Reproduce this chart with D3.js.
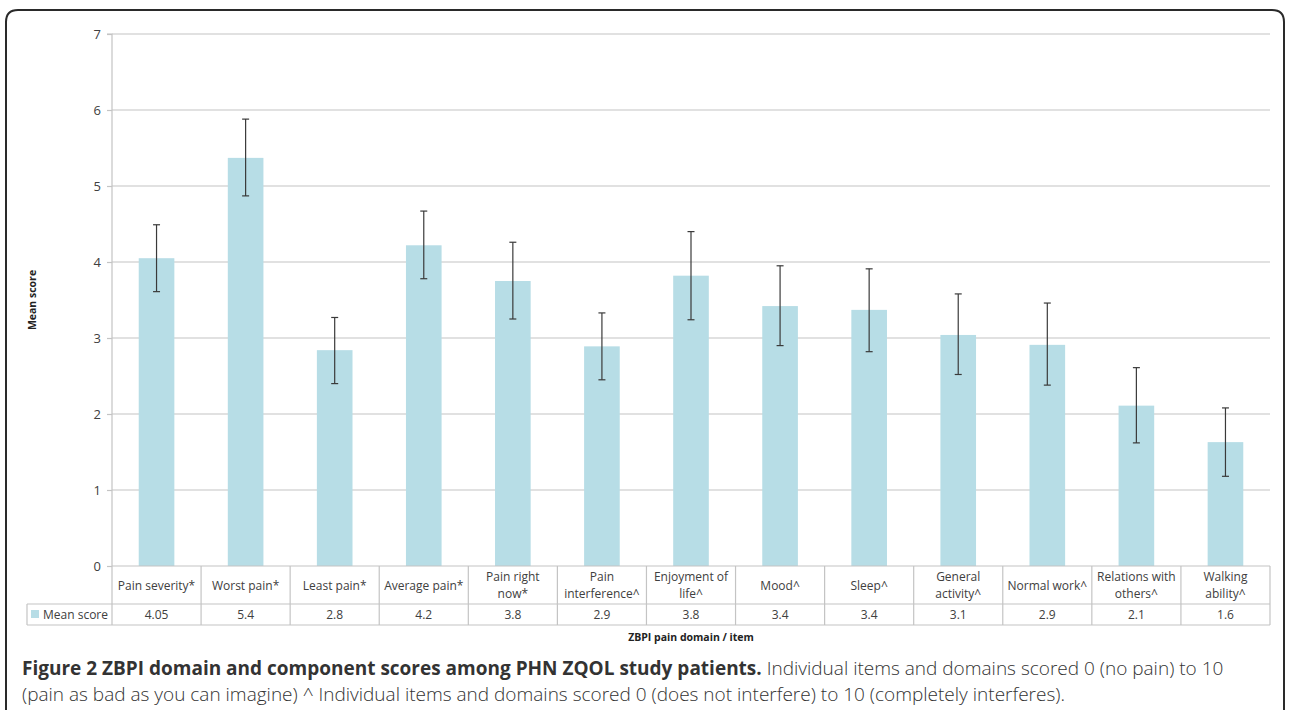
<!DOCTYPE html>
<html>
<head>
<meta charset="utf-8">
<script src="https://cdn.jsdelivr.net/npm/d3@7/dist/d3.min.js"></script>
<style>
  html, body { margin: 0; padding: 0; background: #fff; }
  svg { display: block; }
</style>
</head>
<body>
<svg id="chart" width="1290" height="710"></svg>
<script>
const categories = ["Pain severity*","Worst pain*","Least pain*","Average pain*","Pain right now*","Pain interference^","Enjoyment of life^","Mood^","Sleep^","General activity^","Normal work^","Relations with others^","Walking ability^"];
const headerLines = [["Pain severity*"],["Worst pain*"],["Least pain*"],["Average pain*"],["Pain right","now*"],["Pain","interference^"],["Enjoyment of","life^"],["Mood^"],["Sleep^"],["General","activity^"],["Normal work^"],["Relations with","others^"],["Walking","ability^"]];
const meanScores = [4.05, 5.37, 2.84, 4.22, 3.75, 2.89, 3.82, 3.42, 3.37, 3.04, 2.91, 2.11, 1.63];
const errorHigh = [4.49, 5.88, 3.27, 4.67, 4.26, 3.33, 4.40, 3.95, 3.91, 3.58, 3.46, 2.61, 2.08];
const errorLow = [3.61, 4.87, 2.40, 3.78, 3.25, 2.45, 3.24, 2.90, 2.82, 2.52, 2.38, 1.62, 1.18];
const tableValues = ["4.05","5.4","2.8","4.2","3.8","2.9","3.8","3.4","3.4","3.1","2.9","2.1","1.6"];
const yTicks = [0,1,2,3,4,5,6,7];
const seriesName = "Mean score";
const yTitle = "Mean score";
const xTitle = "ZBPI pain domain / item";
const captionBold = "Figure 2 ZBPI domain and component scores among PHN ZQOL study patients.";
const captionRest1 = " Individual items and domains scored 0 (no pain) to 10";
const captionLine2 = "(pain as bad as you can imagine) ^ Individual items and domains scored 0 (does not interfere) to 10 (completely interferes).";

const svg = d3.select("#chart");
const chartFont = "'Open Sans', 'Noto Sans', sans-serif";
const textColor = "#404040";
const gridColor = "#c4c4c4";
const barColor = "#b7dde6";

// frame
svg.append("path")
  .attr("d", "M6,712 L6,22 Q6,10 18,10 L1272,10 Q1284,10 1284,22 L1284,712")
  .attr("fill", "none").attr("stroke", "#2a2a2a").attr("stroke-width", 2);

const plotLeft = 112, plotRight = 1270, plotTop = 34, plotBottom = 566;
const x = d3.scaleBand().domain(categories).range([plotLeft, plotRight]).paddingInner(0.6).paddingOuter(0.3);
const y = d3.scaleLinear().domain([0, 7]).range([plotBottom, plotTop]);

// gridlines
svg.append("g").selectAll("line").data(yTicks.filter(t => t > 0)).join("line")
  .attr("x1", plotLeft).attr("x2", plotRight)
  .attr("y1", d => y(d)).attr("y2", d => y(d))
  .attr("stroke", gridColor).attr("stroke-width", 1.2);

// y axis
const yAxis = d3.axisLeft(y).tickValues(yTicks).tickSize(5).tickPadding(6).tickFormat(d3.format("d"));
const gy = svg.append("g").attr("transform", `translate(${plotLeft},0)`).call(yAxis);
gy.select(".domain").attr("stroke", gridColor).attr("stroke-width", 1.2).attr("d", `M-5,${plotTop}H0V${plotBottom + 59}`);
gy.selectAll(".tick line").attr("stroke", gridColor).attr("stroke-width", 1.2);
gy.selectAll(".tick text").attr("fill", textColor).attr("font-family", chartFont).attr("font-size", 13);

// bars
svg.append("g").selectAll("rect").data(categories).join("rect")
  .attr("x", d => x(d)).attr("width", x.bandwidth())
  .attr("y", (d, i) => y(meanScores[i]))
  .attr("height", (d, i) => y(0) - y(meanScores[i]))
  .attr("fill", barColor);

// error bars
const eg = svg.append("g").attr("stroke", "#3a3a3a").attr("stroke-width", 1.2);
categories.forEach((c, i) => {
  const cx = x(c) + x.bandwidth() / 2;
  eg.append("line").attr("x1", cx).attr("x2", cx).attr("y1", y(errorHigh[i])).attr("y2", y(errorLow[i]));
  eg.append("line").attr("x1", cx - 3.5).attr("x2", cx + 3.5).attr("y1", y(errorHigh[i])).attr("y2", y(errorHigh[i]));
  eg.append("line").attr("x1", cx - 3.5).attr("x2", cx + 3.5).attr("y1", y(errorLow[i])).attr("y2", y(errorLow[i]));
});

// data table
const rowTop = plotBottom, rowMid = 604, rowBot = 625, tableLeft = 27;
const tg = svg.append("g");
const step = x.step();
const colLeft = i => plotLeft + i * step;
tg.append("line").attr("x1", plotLeft).attr("x2", plotRight).attr("y1", rowTop).attr("y2", rowTop).attr("stroke", gridColor).attr("stroke-width", 1.2);
tg.append("line").attr("x1", tableLeft).attr("x2", plotRight).attr("y1", rowMid).attr("y2", rowMid).attr("stroke", gridColor).attr("stroke-width", 1.2);
tg.append("line").attr("x1", tableLeft).attr("x2", plotRight).attr("y1", rowBot).attr("y2", rowBot).attr("stroke", gridColor).attr("stroke-width", 1.2);
tg.append("line").attr("x1", tableLeft).attr("x2", tableLeft).attr("y1", rowMid).attr("y2", rowBot).attr("stroke", gridColor).attr("stroke-width", 1.2);
d3.range(1, categories.length + 1).forEach(i => {
  tg.append("line").attr("x1", colLeft(i)).attr("x2", colLeft(i)).attr("y1", rowTop).attr("y2", rowBot).attr("stroke", gridColor).attr("stroke-width", 1.2);
});
categories.forEach((c, i) => {
  const cx = colLeft(i) + step / 2;
  const lines = headerLines[i];
  const t = tg.append("text").attr("x", cx).attr("text-anchor", "middle")
    .attr("font-family", chartFont).attr("font-size", 12).attr("fill", textColor);
  if (lines.length === 1) {
    t.append("tspan").attr("x", cx).attr("y", 589.5).text(lines[0]);
  } else {
    t.append("tspan").attr("x", cx).attr("y", 581).text(lines[0]);
    t.append("tspan").attr("x", cx).attr("y", 597.5).text(lines[1]);
  }
  tg.append("text").attr("x", cx).attr("y", 619).attr("text-anchor", "middle")
    .attr("font-family", chartFont).attr("font-size", 12).attr("fill", textColor).text(tableValues[i]);
});
tg.append("rect").attr("x", 31).attr("y", 610).attr("width", 8).attr("height", 8).attr("fill", barColor);
tg.append("text").attr("x", 43).attr("y", 619).attr("font-family", chartFont).attr("font-size", 12).attr("fill", textColor).text(seriesName);

// axis titles
svg.append("text").attr("transform", "translate(36,300) rotate(-90)").attr("text-anchor", "middle")
  .attr("font-family", chartFont).attr("font-size", 10.5).attr("font-weight", "bold").attr("fill", "#222").text(yTitle);
svg.append("text").attr("x", 691).attr("y", 641).attr("text-anchor", "middle")
  .attr("font-family", chartFont).attr("font-size", 10.5).attr("font-weight", "bold").attr("fill", "#222").text(xTitle);

// caption
const capFont = "'Open Sans', 'Noto Sans', sans-serif";
const c1 = svg.append("text").attr("x", 22).attr("y", 675).attr("font-family", capFont).attr("font-size", 19).attr("fill", "#333");
c1.append("tspan").attr("font-weight", "bold").text(captionBold);
c1.append("tspan").attr("font-weight", 300).text(captionRest1);
svg.append("text").attr("x", 22).attr("y", 701).attr("font-family", capFont).attr("font-size", 19).attr("font-weight", 300).attr("fill", "#333").text(captionLine2);
</script>
</body>
</html>
